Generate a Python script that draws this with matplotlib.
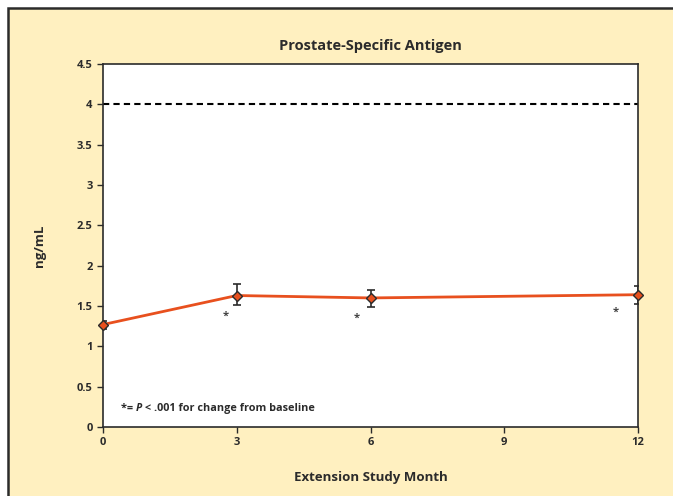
import matplotlib
matplotlib.use('Agg')
import matplotlib.pyplot as plt
from matplotlib.patches import Rectangle

plt.rcParams['font.family'] = ['Open Sans', 'DejaVu Sans']
plt.rcParams['font.weight'] = 'bold'

# PSA by extension study month
months = [0, 3, 6, 12]
psa = [1.27, 1.63, 1.60, 1.64]
err_lo = [0.05, 0.12, 0.11, 0.12]
err_hi = [0.05, 0.14, 0.10, 0.11]
upper_limit = 4.0

# significance markers
star_x = [2.75, 5.7, 11.5]
star_y = [1.37, 1.35, 1.42]

xticks = [0, 3, 6, 9, 12]
yticks = [0, 0.5, 1, 1.5, 2, 2.5, 3, 3.5, 4, 4.5]
ytick_labels = ['0', '0.5', '1', '1.5', '2', '2.5', '3', '3.5', '4', '4.5']

cream = '#FFF0C0'
ink = '#2b2b2b'
orange = '#E8501E'

fig = plt.figure(figsize=(6.73, 4.96), dpi=100, facecolor='white')
fig.patches.append(Rectangle((8 / 673, -0.05), 1.1, 1 - 8 / 496 + 0.05,
                             transform=fig.transFigure, facecolor=cream,
                             edgecolor=ink, linewidth=1.8, zorder=-10))

ax = fig.add_axes([103 / 673, 1 - 427 / 496, 535 / 673, 363 / 496])
ax.set_facecolor('white')

ax.axhline(upper_limit, color='black', linestyle=(0, (3, 2)), linewidth=1.5, zorder=2)
ax.plot(months, psa, color=orange, linewidth=2, zorder=3)
ax.errorbar(months, psa, yerr=[err_lo, err_hi], fmt='none', ecolor=ink,
            elinewidth=1.2, capsize=3, capthick=1.2, zorder=4)
ax.plot(months, psa, linestyle='none', marker='D', markersize=5.5,
        markerfacecolor=orange, markeredgecolor=ink, markeredgewidth=1, zorder=5,
        clip_on=False)

for sx, sy in zip(star_x, star_y):
    ax.text(sx, sy, '*', ha='center', va='center', fontsize=8, color='#444444')

# footnote, with an italic P
t1 = ax.text(0.4, 0.2, '*= ', fontsize=7.8, color=ink)
t2 = ax.annotate('P', xy=(1, 0), xycoords=t1, fontsize=7.8, color=ink,
                 fontstyle='italic', va='bottom')
ax.annotate(' < .001 for change from baseline', xy=(1, 0), xycoords=t2,
            fontsize=7.8, color=ink, va='bottom')

ax.set_xlim(0, 12)
ax.set_ylim(0, 4.5)
ax.set_xticks(xticks)
ax.set_yticks(yticks)
ax.set_yticklabels(ytick_labels)
ax.tick_params(direction='out', length=4, width=1, colors=ink, labelsize=8,
               top=False, right=False)
for lab in ax.get_xticklabels() + ax.get_yticklabels():
    lab.set_fontweight('bold')
for sp in ax.spines.values():
    sp.set_color(ink)
    sp.set_linewidth(1.2)

ax.set_title('Prostate-Specific Antigen', fontsize=10.5, fontweight='bold',
             color=ink, pad=10)
ax.set_xlabel('Extension Study Month', fontsize=9.5, fontweight='bold',
              color=ink, labelpad=16)
ax.set_ylabel('ng/mL', fontsize=9.5, fontweight='bold', color=ink, labelpad=22)

fig.savefig('out.png', dpi=100, facecolor='white')
